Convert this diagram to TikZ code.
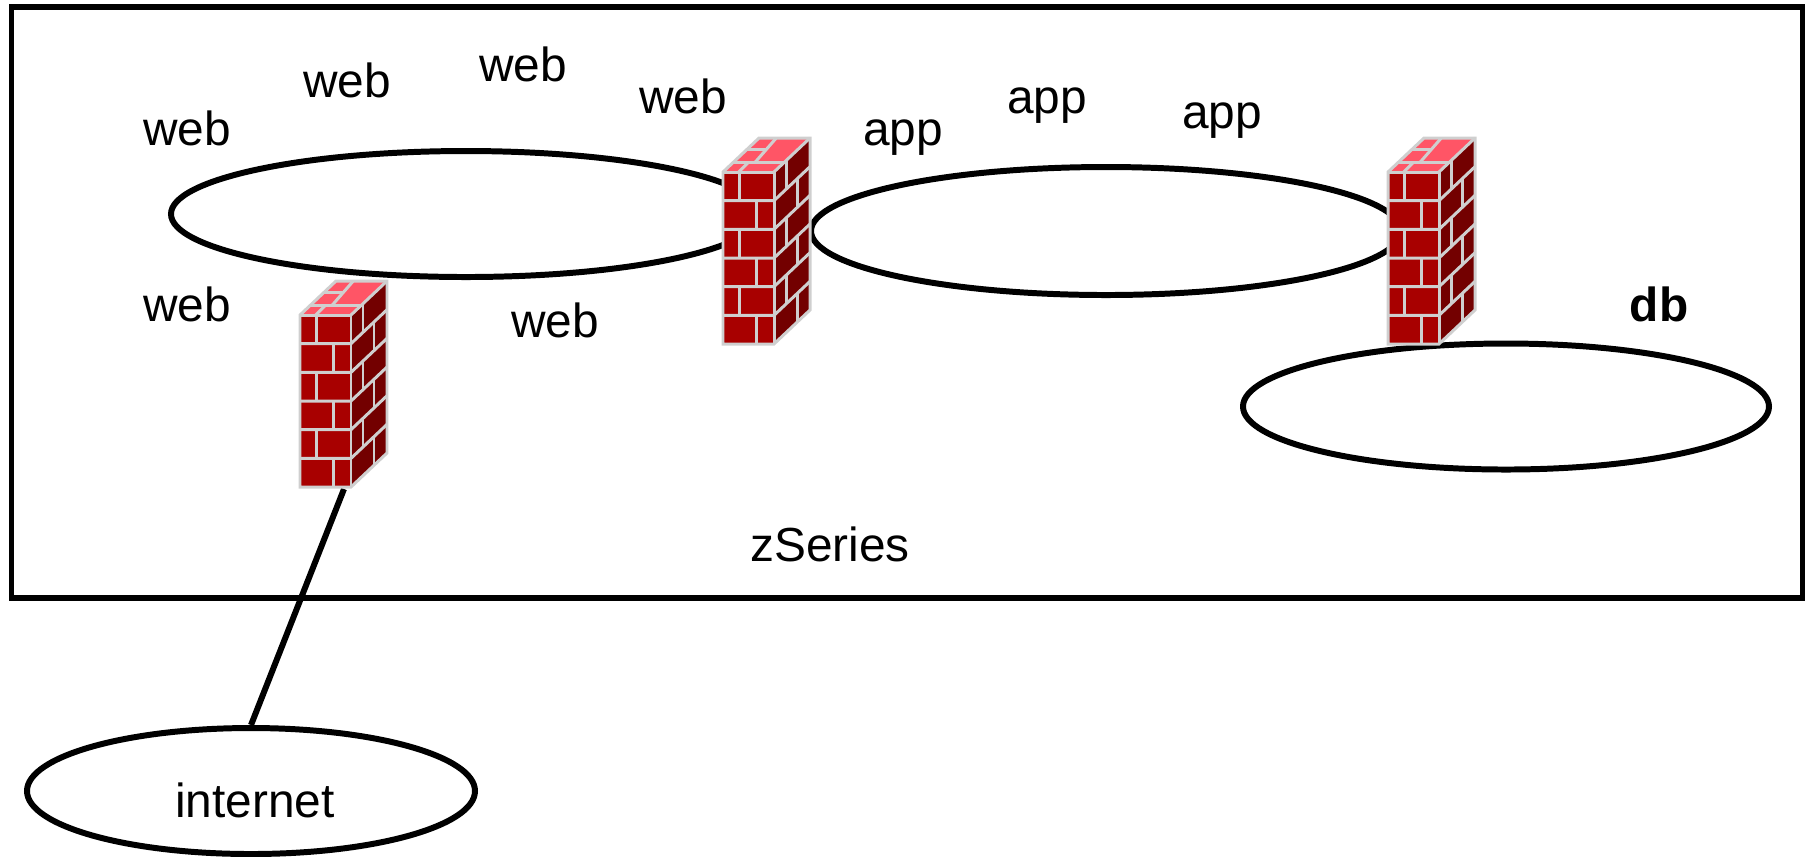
\documentclass[tikz,border=0pt]{standalone}
\usepackage{fontspec}
\setmainfont{Liberation Sans}
\usetikzlibrary{positioning, shapes.geometric}

\definecolor{brickfront}{HTML}{A80000}
\definecolor{brickside}{HTML}{730000}
\definecolor{bricktop}{HTML}{FF5566}
\definecolor{mortar}{HTML}{CFCFCF}

\tikzset{
	firewall/.pic={
		\fill[brickfront] (0, 0) rectangle (51, 172);
		\fill[brickside] (51, 0) -- (87, -34) -- (87, 138) -- (51, 172) -- cycle;
		\fill[bricktop] (0, 0) -- (36, -34) -- (87, -34) -- (51, 0) -- cycle;
		\foreach \k in {1, ..., 5} {
			\draw[mortarline] (0, 28.67*\k) -- (51, 28.67*\k) -- (87, 28.67*\k-34);
		}
		\foreach \k in {0, 2, 4} {
			\draw[mortarline] (16.5, 28.67*\k) -- (16.5, 28.67*\k+28.67);
			\draw[mortarline] (63, 28.67*\k-11.3) -- (63, 28.67*\k+17.3);
		}
		\foreach \k in {1, 3, 5} {
			\draw[mortarline] (33.5, 28.67*\k) -- (33.5, 28.67*\k+28.67);
			\draw[mortarline] (74, 28.67*\k-22) -- (74, 28.67*\k+6.5);
		}
		\draw[mortarline] (9.8, -9.3) -- (60, -9.3);
		\draw[mortarline] (24, -22.7) -- (43.4, -22.7);
		\draw[mortarline] (15.7, 0) -- (25, -9.3);
		\draw[mortarline] (31.7, -9.3) -- (53.3, -34);
		\draw[mortarline] (0, 0) -- (36, -34) -- (87, -34) -- (87, 138) -- (51, 172) -- (0, 172) -- cycle;
		\draw[mortarline] (0, 0) -- (51, 0) -- (51, 172);
		\draw[mortarline] (51, 0) -- (87, -34);
	}
}

\begin{document}
\begin{tikzpicture}[x=0.01cm, y=-0.01cm, font=\fontsize{13.6}{16}\selectfont]
		\tikzstyle{ring} = [draw=black, ellipse, line width=1.7pt, inner sep=0pt]
		\tikzstyle{label} = [inner sep=0pt, anchor=center]
		\tikzstyle{mortarline} = [draw=mortar, line width=0.85pt]
		\tikzstyle{link} = [draw=black, line width=1.7pt]

		\useasboundingbox (0, 0) rectangle (1805, 856);

		\node[draw=black, line width=1.7pt, rectangle, minimum width=1791*0.01cm, minimum height=591*0.01cm, inner sep=0pt] at (907, 302.5) (zbox) {};

		\node[ring, minimum width=590*0.01cm, minimum height=126*0.01cm] at (466, 214) (webring) {};
		\node[ring, minimum width=590*0.01cm, minimum height=128*0.01cm] at (1106, 231) (appring) {};
		\node[ring, minimum width=526*0.01cm, minimum height=126*0.01cm] at (1506, 406.5) (dbring) {};
		\node[ring, minimum width=448*0.01cm, minimum height=126*0.01cm] at (251, 791) (netring) {};

		\coordinate (fwinbase) at (344, 489);
		\draw[link] (fwinbase) -- (netring.north);

		\pic at (300, 315) {firewall};
		\pic at (723, 172) {firewall};
		\pic at (1388, 172) {firewall};

		\node[label] at (187, 128) (web1) {web};
		\node[label] at (347, 80) (web2) {web};
		\node[label] at (523, 64) (web3) {web};
		\node[label] at (683, 96) (web4) {web};
		\node[label] at (187, 304) (web5) {web};
		\node[label] at (555, 320) (web6) {web};
		\node[label] at (903, 138) (app1) {app};
		\node[label] at (1047, 106) (app2) {app};
		\node[label] at (1222, 121) (app3) {app};
		\node[label, font=\fontsize{13.6}{16}\selectfont\bfseries] at (1659, 304) (db) {db};
		\node[label] at (830, 544) (zseries) {zSeries};
		\node[label] at (255, 800) (internet) {internet};
	\end{tikzpicture}
\end{document}
